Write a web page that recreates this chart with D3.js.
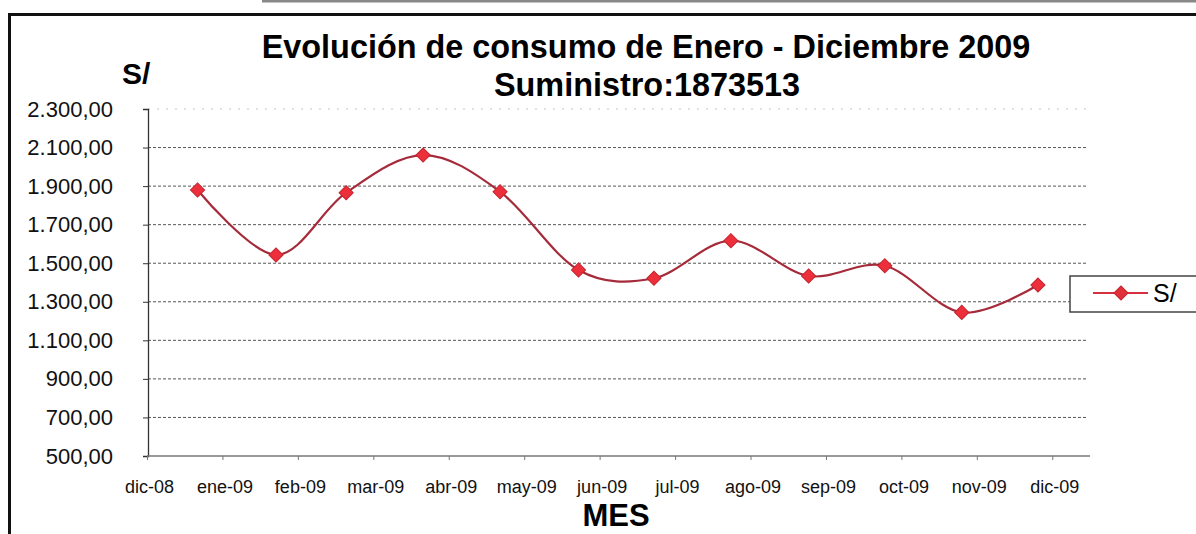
<!DOCTYPE html>
<html><head><meta charset="utf-8">
<script src="https://cdn.jsdelivr.net/npm/d3@7"></script>
<style>body{margin:0;background:#fff;}svg{display:block;font-family:"Liberation Sans",Arial,sans-serif;}</style>
</head><body>
<svg id="c" width="1196" height="534"></svg>
<script>
// ---- data ----
const monthLabels = ["dic-08","ene-09","feb-09","mar-09","abr-09","may-09","jun-09","jul-09","ago-09","sep-09","oct-09","nov-09","dic-09"];
// position of each reading along the month axis (0 = dic-08 tick)
const readingPos = [0.67, 1.71, 2.64, 3.66, 4.68, 5.72, 6.72, 7.74, 8.77, 9.78, 10.80, 11.81];
const consumo = [1880, 1543, 1866, 2061, 1871, 1465, 1422, 1617, 1434, 1487, 1245, 1387];
const yTicks = [500, 700, 900, 1100, 1300, 1500, 1700, 1900, 2100, 2300];
const seriesName = "S/";
const titleLines = ["Evolución de consumo de Enero - Diciembre 2009", "Suministro:1873513"];

const svg = d3.select("#c");
const W = 1196, H = 534;
svg.append("rect").attr("width", W).attr("height", H).attr("fill", "#fff");

// frame
svg.append("rect").attr("x", 262).attr("y", 0).attr("width", W - 262).attr("height", 2.5).attr("fill", "#888");
svg.append("rect").attr("x", 8).attr("y", 13).attr("width", W - 8).attr("height", 3).attr("fill", "#111");
svg.append("rect").attr("x", 8).attr("y", 13).attr("width", 3).attr("height", H - 13).attr("fill", "#111");

const x = d3.scaleLinear().domain([0, 12.5]).range([147, 1090]);
const y = d3.scaleLinear().domain([500, 2300]).range([456, 109]);

const loc = d3.formatLocale({decimal: ",", thousands: ".", grouping: [3], currency: ["S/", ""]});
const fmt = loc.format(",.2f");

// gridlines
svg.append("g").selectAll("line").data(yTicks.filter(v => v > 500)).join("line")
  .attr("x1", 148).attr("x2", 1088)
  .attr("y1", d => y(d)).attr("y2", d => y(d))
  .attr("stroke", d => d === 2300 ? "#c4c4c4" : "#555")
  .attr("stroke-width", 1)
  .attr("stroke-dasharray", d => d === 2300 ? "2,7" : "3,2");

// y axis
const ya = svg.append("g").attr("transform", "translate(148,0)")
  .call(d3.axisLeft(y).tickValues(yTicks).tickFormat(fmt).tickSize(5).tickPadding(30));
ya.select(".domain").attr("stroke", "#333").attr("stroke-width", 1.3);
ya.selectAll(".tick line").attr("stroke", "#333");
ya.selectAll("text").attr("font-size", 22).attr("fill", "#111").attr("font-family", "Liberation Sans, Arial, sans-serif");

// x axis
const xa = svg.append("g").attr("transform", "translate(0,456)")
  .call(d3.axisBottom(x).tickValues(d3.range(monthLabels.length)).tickFormat(i => monthLabels[i]).tickSize(4).tickPadding(20));
xa.select(".domain").attr("stroke", "#777").attr("stroke-width", 1.3).attr("d", "M147,0H1090");
xa.selectAll(".tick line").attr("stroke", "#777");
xa.selectAll("text").attr("font-size", 18).attr("dx", 2).attr("fill", "#111").attr("font-family", "Liberation Sans, Arial, sans-serif");

// line
const line = d3.line().x((d, i) => x(readingPos[i])).y(d => y(d)).curve(d3.curveCardinal.tension(0));
svg.append("path").datum(consumo).attr("d", line)
  .attr("fill", "none").attr("stroke", "#a62b3a").attr("stroke-width", 2.2);

const diamond = d3.symbol().type(d3.symbolSquare).size(100);
svg.append("g").selectAll("path").data(consumo).join("path")
  .attr("d", diamond)
  .attr("transform", (d, i) => `translate(${x(readingPos[i])},${y(d)}) rotate(45)`)
  .attr("fill", "#ec2f3b").attr("stroke", "#c4242e").attr("stroke-width", 1);

// titles
svg.append("text").attr("x", 646).attr("y", 58).attr("text-anchor", "middle")
  .attr("font-size", 32.4).attr("font-weight", "bold").attr("fill", "#000").text(titleLines[0]);
svg.append("text").attr("x", 647).attr("y", 96).attr("text-anchor", "middle")
  .attr("font-size", 32.4).attr("font-weight", "bold").attr("fill", "#000").text(titleLines[1]);
svg.append("text").attr("x", 122).attr("y", 84)
  .attr("font-size", 30).attr("font-weight", "bold").attr("fill", "#000").text(seriesName);
svg.append("text").attr("x", 616).attr("y", 526).attr("text-anchor", "middle")
  .attr("font-size", 31).attr("font-weight", "bold").attr("fill", "#000").text("MES");

// legend
const lg = svg.append("g");
lg.append("rect").attr("x", 1070).attr("y", 276).attr("width", 140).attr("height", 36)
  .attr("fill", "#fff").attr("stroke", "#444").attr("stroke-width", 1.5);
lg.append("line").attr("x1", 1093).attr("x2", 1148).attr("y1", 293).attr("y2", 293)
  .attr("stroke", "#d63040").attr("stroke-width", 2.2);
lg.append("path").attr("d", diamond).attr("transform", "translate(1121,293) rotate(45)")
  .attr("fill", "#e0303a").attr("stroke", "#c4242e");
lg.append("text").attr("x", 1153).attr("y", 302).attr("font-size", 25).attr("fill", "#000").text(seriesName);
</script>
</body></html>
